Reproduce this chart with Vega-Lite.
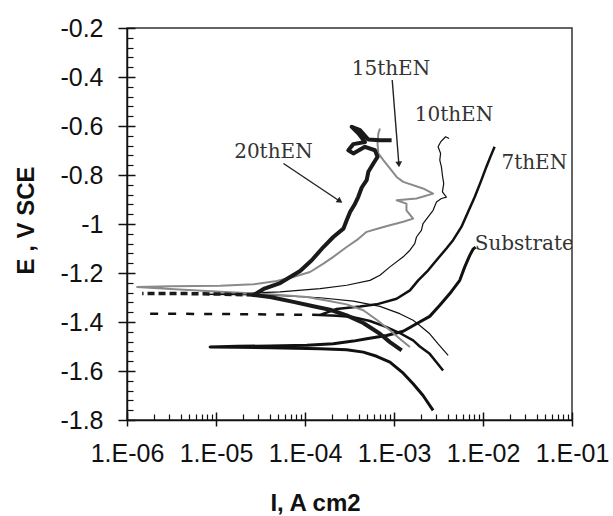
{
  "$schema": "https://vega.github.io/schema/vega-lite/v6.json",
  "width": 445,
  "height": 392,
  "autosize": "none",
  "padding": {"left": 127, "top": 28, "right": 41, "bottom": 96},
  "background": "white",
  "config": {"view": {"stroke": "#333", "strokeWidth": 1.5}},
  "datasets": {
    "curves": [
      {"s":"Substrate","k":1,"I":2.75e-3,"E":-1.761},
      {"s":"Substrate","k":2,"I":2.12e-3,"E":-1.700},
      {"s":"Substrate","k":3,"I":1.64e-3,"E":-1.652},
      {"s":"Substrate","k":4,"I":1.27e-3,"E":-1.609},
      {"s":"Substrate","k":5,"I":9.00e-4,"E":-1.564},
      {"s":"Substrate","k":6,"I":6.38e-4,"E":-1.540},
      {"s":"Substrate","k":7,"I":4.52e-4,"E":-1.523},
      {"s":"Substrate","k":8,"I":2.94e-4,"E":-1.513},
      {"s":"Substrate","k":9,"I":1.48e-4,"E":-1.509},
      {"s":"Substrate","k":10,"I":4.06e-5,"E":-1.505},
      {"s":"Substrate","k":11,"I":1.72e-5,"E":-1.503},
      {"s":"Substrate","k":12,"I":8.59e-6,"E":-1.502},
      {"s":"Substrate","k":13,"I":1.72e-5,"E":-1.499},
      {"s":"Substrate","k":14,"I":4.06e-5,"E":-1.498},
      {"s":"Substrate","k":15,"I":1.05e-4,"E":-1.495},
      {"s":"Substrate","k":16,"I":2.08e-4,"E":-1.489},
      {"s":"Substrate","k":17,"I":3.49e-4,"E":-1.478},
      {"s":"Substrate","k":18,"I":4.93e-4,"E":-1.468},
      {"s":"Substrate","k":19,"I":8.26e-4,"E":-1.455},
      {"s":"Substrate","k":20,"I":1.27e-3,"E":-1.438},
      {"s":"Substrate","k":21,"I":1.79e-3,"E":-1.407},
      {"s":"Substrate","k":22,"I":2.52e-3,"E":-1.377},
      {"s":"Substrate","k":23,"I":3.27e-3,"E":-1.332},
      {"s":"Substrate","k":24,"I":4.24e-3,"E":-1.284},
      {"s":"Substrate","k":25,"I":5.48e-3,"E":-1.230},
      {"s":"Substrate","k":26,"I":6.24e-3,"E":-1.175},
      {"s":"Substrate","k":27,"I":7.10e-3,"E":-1.128},
      {"s":"Substrate","k":28,"I":7.73e-3,"E":-1.103},
      {"s":"Substrate","k":29,"I":8.26e-3,"E":-1.094},

      {"s":"7thEN","k":1,"I":3.56e-3,"E":-1.598},
      {"s":"7thEN","k":2,"I":3.00e-3,"E":-1.564},
      {"s":"7thEN","k":3,"I":2.52e-3,"E":-1.530},
      {"s":"7thEN","k":4,"I":1.95e-3,"E":-1.500},
      {"s":"7thEN","k":5,"I":1.64e-3,"E":-1.475},
      {"s":"7thEN","k":6,"I":1.16e-3,"E":-1.445},
      {"s":"7thEN","k":7,"I":8.26e-4,"E":-1.421},
      {"s":"7thEN","k":8,"I":5.37e-4,"E":-1.396},
      {"s":"7thEN","k":9,"I":3.49e-4,"E":-1.380},
      {"s":"7thEN","k":10,"I":2.27e-4,"E":-1.374},
      {"s":"7thEN","k":11,"I":1.48e-4,"E":-1.371},
      {"s":"7thEN","k":12,"I":4.06e-5,"E":-1.369},
      {"s":"7thEN","k":13,"I":7.26e-6,"E":-1.367},
      {"s":"7thEN","k":14,"I":1.54e-6,"E":-1.366},
      {"s":"7thEN","k":15,"I":7.26e-6,"E":-1.365},
      {"s":"7thEN","k":16,"I":4.06e-5,"E":-1.363},
      {"s":"7thEN","k":17,"I":1.05e-4,"E":-1.358},
      {"s":"7thEN","k":18,"I":2.27e-4,"E":-1.347},
      {"s":"7thEN","k":19,"I":4.15e-4,"E":-1.337},
      {"s":"7thEN","k":20,"I":6.38e-4,"E":-1.328},
      {"s":"7thEN","k":21,"I":1.07e-3,"E":-1.305},
      {"s":"7thEN","k":22,"I":1.51e-3,"E":-1.271},
      {"s":"7thEN","k":23,"I":1.87e-3,"E":-1.230},
      {"s":"7thEN","k":24,"I":2.42e-3,"E":-1.189},
      {"s":"7thEN","k":25,"I":3.00e-3,"E":-1.148},
      {"s":"7thEN","k":26,"I":3.88e-3,"E":-1.100},
      {"s":"7thEN","k":27,"I":4.61e-3,"E":-1.066},
      {"s":"7thEN","k":28,"I":5.72e-3,"E":-1.012},
      {"s":"7thEN","k":29,"I":6.79e-3,"E":-0.951},
      {"s":"7thEN","k":30,"I":8.07e-3,"E":-0.890},
      {"s":"7thEN","k":31,"I":9.59e-3,"E":-0.821},
      {"s":"7thEN","k":32,"I":1.09e-2,"E":-0.767},
      {"s":"7thEN","k":33,"I":1.21e-2,"E":-0.726},
      {"s":"7thEN","k":34,"I":1.35e-2,"E":-0.685},

      {"s":"10thEN","k":1,"I":4.06e-3,"E":-1.536},
      {"s":"10thEN","k":2,"I":3.13e-3,"E":-1.489},
      {"s":"10thEN","k":3,"I":2.52e-3,"E":-1.448},
      {"s":"10thEN","k":4,"I":1.95e-3,"E":-1.414},
      {"s":"10thEN","k":5,"I":1.64e-3,"E":-1.393},
      {"s":"10thEN","k":6,"I":1.16e-3,"E":-1.366},
      {"s":"10thEN","k":7,"I":6.95e-4,"E":-1.336},
      {"s":"10thEN","k":8,"I":3.49e-4,"E":-1.315},
      {"s":"10thEN","k":9,"I":1.48e-4,"E":-1.301},
      {"s":"10thEN","k":10,"I":5.26e-5,"E":-1.292},
      {"s":"10thEN","k":11,"I":1.72e-5,"E":-1.288},
      {"s":"10thEN","k":12,"I":7.26e-6,"E":-1.287},
      {"s":"10thEN","k":13,"I":1.72e-5,"E":-1.284},
      {"s":"10thEN","k":14,"I":5.26e-5,"E":-1.277},
      {"s":"10thEN","k":15,"I":1.48e-4,"E":-1.264},
      {"s":"10thEN","k":16,"I":2.94e-4,"E":-1.250},
      {"s":"10thEN","k":17,"I":5.37e-4,"E":-1.230},
      {"s":"10thEN","k":18,"I":6.95e-4,"E":-1.209},
      {"s":"10thEN","k":19,"I":9.00e-4,"E":-1.175},
      {"s":"10thEN","k":20,"I":1.27e-3,"E":-1.134},
      {"s":"10thEN","k":21,"I":1.51e-3,"E":-1.107},
      {"s":"10thEN","k":22,"I":1.71e-3,"E":-1.080},
      {"s":"10thEN","k":23,"I":1.79e-3,"E":-1.053},
      {"s":"10thEN","k":24,"I":2.03e-3,"E":-1.026},
      {"s":"10thEN","k":25,"I":2.12e-3,"E":-0.998},
      {"s":"10thEN","k":26,"I":2.42e-3,"E":-0.971},
      {"s":"10thEN","k":27,"I":2.75e-3,"E":-0.944},
      {"s":"10thEN","k":28,"I":3.00e-3,"E":-0.910},
      {"s":"10thEN","k":29,"I":3.41e-3,"E":-0.896},
      {"s":"10thEN","k":30,"I":3.88e-3,"E":-0.890},
      {"s":"10thEN","k":31,"I":3.50e-3,"E":-0.869},
      {"s":"10thEN","k":32,"I":3.62e-3,"E":-0.835},
      {"s":"10thEN","k":33,"I":3.50e-3,"E":-0.801},
      {"s":"10thEN","k":34,"I":3.41e-3,"E":-0.767},
      {"s":"10thEN","k":35,"I":3.27e-3,"E":-0.739},
      {"s":"10thEN","k":36,"I":3.34e-3,"E":-0.712},
      {"s":"10thEN","k":37,"I":3.13e-3,"E":-0.685},
      {"s":"10thEN","k":38,"I":3.34e-3,"E":-0.665},
      {"s":"10thEN","k":39,"I":3.80e-3,"E":-0.644},
      {"s":"10thEN","k":40,"I":4.16e-3,"E":-0.651},

      {"s":"15thEN","k":1,"I":1.51e-3,"E":-1.502},
      {"s":"15thEN","k":2,"I":1.16e-3,"E":-1.468},
      {"s":"15thEN","k":3,"I":9.00e-4,"E":-1.434},
      {"s":"15thEN","k":4,"I":6.38e-4,"E":-1.391},
      {"s":"15thEN","k":5,"I":4.52e-4,"E":-1.352},
      {"s":"15thEN","k":6,"I":2.94e-4,"E":-1.328},
      {"s":"15thEN","k":7,"I":1.75e-4,"E":-1.312},
      {"s":"15thEN","k":8,"I":1.05e-4,"E":-1.298},
      {"s":"15thEN","k":9,"I":4.06e-5,"E":-1.287},
      {"s":"15thEN","k":10,"I":1.12e-5,"E":-1.277},
      {"s":"15thEN","k":11,"I":3.07e-6,"E":-1.265},
      {"s":"15thEN","k":12,"I":1.30e-6,"E":-1.257},
      {"s":"15thEN","k":13,"I":3.07e-6,"E":-1.254},
      {"s":"15thEN","k":14,"I":1.12e-5,"E":-1.252},
      {"s":"15thEN","k":15,"I":2.64e-5,"E":-1.246},
      {"s":"15thEN","k":16,"I":4.82e-5,"E":-1.233},
      {"s":"15thEN","k":17,"I":7.41e-5,"E":-1.216},
      {"s":"15thEN","k":18,"I":1.14e-4,"E":-1.196},
      {"s":"15thEN","k":19,"I":1.61e-4,"E":-1.162},
      {"s":"15thEN","k":20,"I":2.08e-4,"E":-1.134},
      {"s":"15thEN","k":21,"I":2.94e-4,"E":-1.094},
      {"s":"15thEN","k":22,"I":3.81e-4,"E":-1.066},
      {"s":"15thEN","k":23,"I":4.93e-4,"E":-1.032},
      {"s":"15thEN","k":24,"I":6.95e-4,"E":-1.016},
      {"s":"15thEN","k":25,"I":9.00e-4,"E":-1.005},
      {"s":"15thEN","k":26,"I":1.27e-3,"E":-0.991},
      {"s":"15thEN","k":27,"I":1.64e-3,"E":-0.978},
      {"s":"15thEN","k":28,"I":1.38e-3,"E":-0.944},
      {"s":"15thEN","k":29,"I":1.38e-3,"E":-0.917},
      {"s":"15thEN","k":30,"I":1.07e-3,"E":-0.903},
      {"s":"15thEN","k":31,"I":1.79e-3,"E":-0.896},
      {"s":"15thEN","k":32,"I":2.75e-3,"E":-0.876},
      {"s":"15thEN","k":33,"I":2.12e-3,"E":-0.855},
      {"s":"15thEN","k":34,"I":1.27e-3,"E":-0.828},
      {"s":"15thEN","k":35,"I":1.07e-3,"E":-0.808},
      {"s":"15thEN","k":36,"I":9.00e-4,"E":-0.773},
      {"s":"15thEN","k":37,"I":7.59e-4,"E":-0.739},
      {"s":"15thEN","k":38,"I":6.67e-4,"E":-0.712},
      {"s":"15thEN","k":39,"I":6.53e-4,"E":-0.671},
      {"s":"15thEN","k":40,"I":6.67e-4,"E":-0.630},
      {"s":"15thEN","k":41,"I":6.95e-4,"E":-0.610},

      {"s":"20thEN","k":1,"I":1.22e-3,"E":-1.516},
      {"s":"20thEN","k":2,"I":9.00e-4,"E":-1.482},
      {"s":"20thEN","k":3,"I":6.95e-4,"E":-1.448},
      {"s":"20thEN","k":4,"I":4.52e-4,"E":-1.404},
      {"s":"20thEN","k":5,"I":2.94e-4,"E":-1.373},
      {"s":"20thEN","k":6,"I":1.91e-4,"E":-1.350},
      {"s":"20thEN","k":7,"I":1.24e-4,"E":-1.336},
      {"s":"20thEN","k":8,"I":7.41e-5,"E":-1.318},
      {"s":"20thEN","k":9,"I":4.06e-5,"E":-1.298},
      {"s":"20thEN","k":10,"I":2.64e-5,"E":-1.290},
      {"s":"20thEN","k":11,"I":1.12e-5,"E":-1.286},
      {"s":"20thEN","k":12,"I":4.73e-6,"E":-1.284},
      {"s":"20thEN","k":13,"I":1.48e-6,"E":-1.284},
      {"s":"20thEN","k":14,"I":4.73e-6,"E":-1.281},
      {"s":"20thEN","k":15,"I":1.12e-5,"E":-1.280},
      {"s":"20thEN","k":16,"I":2.22e-5,"E":-1.276},
      {"s":"20thEN","k":17,"I":3.43e-5,"E":-1.265},
      {"s":"20thEN","k":18,"I":5.26e-5,"E":-1.241},
      {"s":"20thEN","k":19,"I":8.81e-5,"E":-1.192},
      {"s":"20thEN","k":20,"I":1.19e-4,"E":-1.148},
      {"s":"20thEN","k":21,"I":1.61e-4,"E":-1.094},
      {"s":"20thEN","k":22,"I":2.08e-4,"E":-1.053},
      {"s":"20thEN","k":23,"I":2.70e-4,"E":-1.019},
      {"s":"20thEN","k":24,"I":2.94e-4,"E":-0.985},
      {"s":"20thEN","k":25,"I":3.21e-4,"E":-0.951},
      {"s":"20thEN","k":26,"I":3.65e-4,"E":-0.917},
      {"s":"20thEN","k":27,"I":3.97e-4,"E":-0.889},
      {"s":"20thEN","k":28,"I":4.34e-4,"E":-0.851},
      {"s":"20thEN","k":29,"I":4.93e-4,"E":-0.821},
      {"s":"20thEN","k":30,"I":5.15e-4,"E":-0.787},
      {"s":"20thEN","k":31,"I":5.86e-4,"E":-0.753},
      {"s":"20thEN","k":32,"I":6.53e-4,"E":-0.726},
      {"s":"20thEN","k":33,"I":6.11e-4,"E":-0.699},
      {"s":"20thEN","k":34,"I":4.72e-4,"E":-0.685},
      {"s":"20thEN","k":35,"I":3.49e-4,"E":-0.712},
      {"s":"20thEN","k":36,"I":3.07e-4,"E":-0.699},
      {"s":"20thEN","k":37,"I":3.49e-4,"E":-0.674},
      {"s":"20thEN","k":38,"I":4.72e-4,"E":-0.665},
      {"s":"20thEN","k":39,"I":3.97e-4,"E":-0.630},
      {"s":"20thEN","k":40,"I":3.35e-4,"E":-0.603},
      {"s":"20thEN","k":41,"I":4.15e-4,"E":-0.617},
      {"s":"20thEN","k":42,"I":5.15e-4,"E":-0.655},
      {"s":"20thEN","k":43,"I":6.95e-4,"E":-0.658},
      {"s":"20thEN","k":44,"I":9.40e-4,"E":-0.658}
    ],
    "labels": [
      {"t":"20thEN","I":1.6e-5,"E":-0.707},
      {"t":"15thEN","I":3.35e-4,"E":-0.368},
      {"t":"10thEN","I":1.71e-3,"E":-0.557},
      {"t":"7thEN","I":1.61e-2,"E":-0.750},
      {"t":"Substrate","I":8.07e-3,"E":-1.080}
    ],
    "arrows": [
      {"a":"20thEN","I":5.73e-5,"E":-0.753,"I2":2.47e-4,"E2":-0.907},
      {"a":"15thEN","I":9.55e-4,"E":-0.4125,"I2":1.135e-3,"E2":-0.757}
    ]
  },
  "resolve": {"axis": {"x": "independent", "y": "independent"}},
  "layer": [
    {
      "data": {"name": "curves"},
      "transform": [{"filter": "datum.s == 'Substrate'"}],
      "mark": {"type": "line", "color": "#111", "strokeWidth": 3, "strokeJoin": "round"},
      "encoding": {
        "x": {"field": "I", "type": "quantitative",
              "scale": {"type": "log", "domain": [0.000001, 0.1], "nice": false},
              "axis": {"orient": "bottom", "values": [0.000001, 0.00001, 0.0001, 0.001, 0.01, 0.1],
                       "labelExpr": "'1.E-0' + round(-log(datum.value)/LN10)",
                       "labelFont": "Liberation Sans", "labelFontSize": 25, "labelColor": "#111",
                       "labelPadding": 15, "labelOverlap": false, "labelBound": false, "labelFlush": false,
                       "tickSize": 6, "tickColor": "#111", "tickWidth": 1.5,
                       "domainColor": "#111", "domainWidth": 1.5, "grid": false,
                       "title": "I, A cm2", "titleFont": "Liberation Sans", "titleFontSize": 24,
                       "titleFontWeight": "bold", "titleColor": "#111",
                       "titleX": 188, "titleY": 90, "titleBaseline": "alphabetic", "titleAlign": "center", "titleAngle": 0}},
        "y": {"field": "E", "type": "quantitative",
              "scale": {"domain": [-1.8, -0.2], "nice": false, "zero": false},
              "axis": {"orient": "left", "values": [-1.8, -1.6, -1.4, -1.2, -1, -0.8, -0.6, -0.4, -0.2],
                       "labelExpr": "'' + datum.value",
                       "labelFont": "Liberation Sans", "labelFontSize": 25, "labelColor": "#111",
                       "labelPadding": 15, "labelOverlap": false, "labelBound": false, "labelFlush": false,
                       "tickSize": 9, "tickColor": "#111", "tickWidth": 1.5,
                       "domainColor": "#111", "domainWidth": 1.5, "grid": false,
                       "title": "E , V SCE", "titleFont": "Liberation Sans", "titleFontSize": 24,
                       "titleFontWeight": "bold", "titleColor": "#111",
                       "titleX": -94, "titleY": 192, "titleAngle": 270, "titleBaseline": "alphabetic", "titleAlign": "center"}},
        "order": {"field": "k", "type": "quantitative"}
      }
    },
    {
      "data": {"name": "curves"},
      "transform": [{"filter": "datum.s == '7thEN' && datum.I >= 1.4e-4"}],
      "mark": {"type": "line", "color": "#111", "strokeWidth": 2.5, "strokeJoin": "round"},
      "encoding": {
        "x": {"field": "I", "type": "quantitative",
              "scale": {"type": "log", "domain": [0.000001, 0.1], "nice": false},
              "axis": {"orient": "bottom", "values": [0.000001, 0.00001, 0.0001, 0.001, 0.01, 0.1],
                       "offset": -8, "tickSize": 8, "tickColor": "#111", "tickWidth": 1.5,
                       "labels": false, "domain": false, "grid": false, "title": null}},
        "y": {"field": "E", "type": "quantitative",
              "scale": {"domain": [-1.8, -0.2], "nice": false, "zero": false},
              "axis": {"orient": "left", "values": [-1.8, -1.6, -1.4, -1.2, -1, -0.8, -0.6, -0.4, -0.2],
                       "offset": -8, "tickSize": 8, "tickColor": "#111", "tickWidth": 1.5,
                       "labels": false, "domain": false, "grid": false, "title": null}},
        "order": {"field": "k", "type": "quantitative"}
      }
    },
    {
      "data": {"name": "curves"},
      "transform": [{"filter": "datum.s == '10thEN'"}],
      "mark": {"type": "line", "color": "#111", "strokeWidth": 1.2, "strokeJoin": "round"},
      "encoding": {
        "x": {"field": "I", "type": "quantitative",
              "scale": {"type": "log", "domain": [0.000001, 0.1], "nice": false},
              "axis": {"orient": "bottom",
                       "values": [0.000002, 0.000003, 0.000004, 0.000005, 0.000006, 0.000007, 0.000008, 0.000009,
                                  0.00002, 0.00003, 0.00004, 0.00005, 0.00006, 0.00007, 0.00008, 0.00009,
                                  0.0002, 0.0003, 0.0004, 0.0005, 0.0006, 0.0007, 0.0008, 0.0009,
                                  0.002, 0.003, 0.004, 0.005, 0.006, 0.007, 0.008, 0.009,
                                  0.02, 0.03, 0.04, 0.05, 0.06, 0.07, 0.08, 0.09],
                       "offset": -6, "tickSize": 6, "tickColor": "#111", "tickWidth": 1.2,
                       "labels": false, "domain": false, "grid": false, "title": null}},
        "y": {"field": "E", "type": "quantitative",
              "scale": {"domain": [-1.8, -0.2], "nice": false, "zero": false},
              "axis": {"orient": "left",
                       "values": [-1.76, -1.72, -1.68, -1.64, -1.56, -1.52, -1.48, -1.44, -1.36, -1.32, -1.28, -1.24,
                                  -1.16, -1.12, -1.08, -1.04, -0.96, -0.92, -0.88, -0.84, -0.76, -0.72, -0.68, -0.64,
                                  -0.56, -0.52, -0.48, -0.44, -0.36, -0.32, -0.28, -0.24],
                       "offset": -6, "tickSize": 6, "tickColor": "#111", "tickWidth": 1.2,
                       "labels": false, "domain": false, "grid": false, "title": null}},
        "order": {"field": "k", "type": "quantitative"}
      }
    },
    {
      "data": {"name": "curves"},
      "transform": [{"filter": "datum.s == '7thEN' && datum.k <= 14 && datum.I < 1.6e-4"}],
      "mark": {"type": "line", "color": "#111", "strokeWidth": 2.5, "strokeDash": [8, 10]},
      "encoding": {
        "x": {"field": "I", "type": "quantitative", "scale": {"type": "log", "domain": [0.000001, 0.1], "nice": false}, "axis": null},
        "y": {"field": "E", "type": "quantitative", "scale": {"domain": [-1.8, -0.2], "nice": false, "zero": false}, "axis": null},
        "order": {"field": "k", "type": "quantitative"}
      }
    },
    {
      "data": {"name": "curves"},
      "transform": [{"filter": "datum.s == '15thEN'"}],
      "mark": {"type": "line", "color": "#8a8a8a", "strokeWidth": 2, "strokeJoin": "round"},
      "encoding": {
        "x": {"field": "I", "type": "quantitative", "scale": {"type": "log", "domain": [0.000001, 0.1], "nice": false}, "axis": null},
        "y": {"field": "E", "type": "quantitative", "scale": {"domain": [-1.8, -0.2], "nice": false, "zero": false}, "axis": null},
        "order": {"field": "k", "type": "quantitative"}
      }
    },
    {
      "data": {"name": "curves"},
      "transform": [{"filter": "datum.s == '20thEN' && datum.I >= 2.6e-5"}],
      "mark": {"type": "line", "color": "#1a1a1a", "strokeWidth": 4, "strokeJoin": "round"},
      "encoding": {
        "x": {"field": "I", "type": "quantitative", "scale": {"type": "log", "domain": [0.000001, 0.1], "nice": false}, "axis": null},
        "y": {"field": "E", "type": "quantitative", "scale": {"domain": [-1.8, -0.2], "nice": false, "zero": false}, "axis": null},
        "order": {"field": "k", "type": "quantitative"}
      }
    },
    {
      "data": {"name": "curves"},
      "transform": [{"filter": "datum.s == '20thEN' && datum.k <= 13 && datum.I < 3e-5"}],
      "mark": {"type": "line", "color": "#1a1a1a", "strokeWidth": 3.5, "strokeDash": [7, 4]},
      "encoding": {
        "x": {"field": "I", "type": "quantitative", "scale": {"type": "log", "domain": [0.000001, 0.1], "nice": false}, "axis": null},
        "y": {"field": "E", "type": "quantitative", "scale": {"domain": [-1.8, -0.2], "nice": false, "zero": false}, "axis": null},
        "order": {"field": "k", "type": "quantitative"}
      }
    },
    {
      "data": {"name": "arrows"},
      "mark": {"type": "rule", "color": "#222", "strokeWidth": 1.4},
      "encoding": {
        "x": {"field": "I", "type": "quantitative", "scale": {"type": "log", "domain": [0.000001, 0.1], "nice": false}, "axis": null},
        "x2": {"field": "I2"},
        "y": {"field": "E", "type": "quantitative", "scale": {"domain": [-1.8, -0.2], "nice": false, "zero": false}, "axis": null},
        "y2": {"field": "E2"}
      }
    },
    {
      "data": {"name": "arrows"},
      "transform": [{"filter": "datum.a == '20thEN'"}],
      "mark": {"type": "point", "shape": "triangle-up", "angle": 124, "size": 45, "filled": true, "color": "#222", "opacity": 1},
      "encoding": {
        "x": {"field": "I2", "type": "quantitative", "scale": {"type": "log", "domain": [0.000001, 0.1], "nice": false}, "axis": null},
        "y": {"field": "E2", "type": "quantitative", "scale": {"domain": [-1.8, -0.2], "nice": false, "zero": false}, "axis": null}
      }
    },
    {
      "data": {"name": "arrows"},
      "transform": [{"filter": "datum.a == '15thEN'"}],
      "mark": {"type": "point", "shape": "triangle-up", "angle": 176, "size": 45, "filled": true, "color": "#222", "opacity": 1},
      "encoding": {
        "x": {"field": "I2", "type": "quantitative", "scale": {"type": "log", "domain": [0.000001, 0.1], "nice": false}, "axis": null},
        "y": {"field": "E2", "type": "quantitative", "scale": {"domain": [-1.8, -0.2], "nice": false, "zero": false}, "axis": null}
      }
    },
    {
      "data": {"name": "labels"},
      "mark": {"type": "text", "font": "DejaVu Serif", "fontSize": 20, "color": "#333", "align": "left", "baseline": "middle", "clip": true},
      "encoding": {
        "x": {"field": "I", "type": "quantitative", "scale": {"type": "log", "domain": [0.000001, 0.1], "nice": false}, "axis": null},
        "y": {"field": "E", "type": "quantitative", "scale": {"domain": [-1.8, -0.2], "nice": false, "zero": false}, "axis": null},
        "text": {"field": "t"}
      }
    }
  ]
}
